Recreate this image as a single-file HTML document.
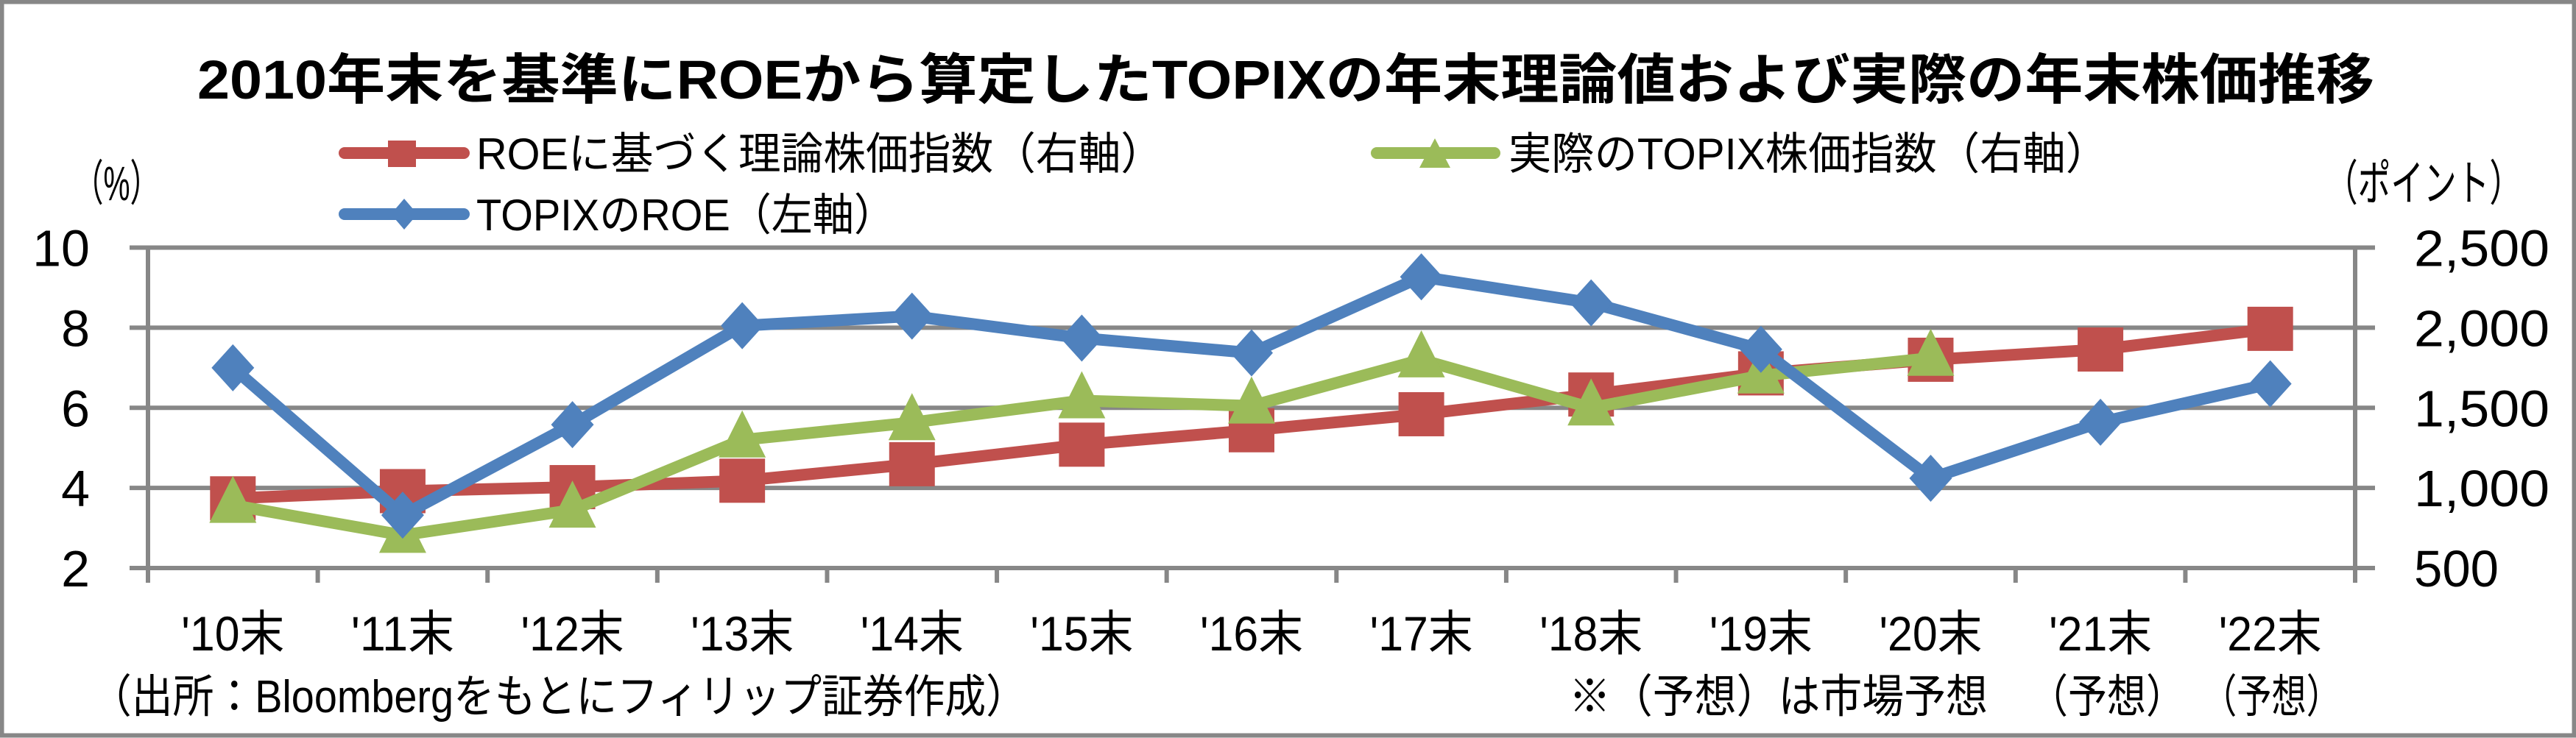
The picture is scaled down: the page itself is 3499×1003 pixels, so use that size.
<!DOCTYPE html>
<html><head><meta charset="utf-8">
<style>
html,body{margin:0;padding:0;background:#fff;}
svg{display:block;}
text{font-family:"Liberation Sans","Noto Sans CJK JP",sans-serif;fill:#000;}
</style></head>
<body>
<svg id="chart" width="3499" height="1003" viewBox="0 0 3499 1003" xmlns="http://www.w3.org/2000/svg">
<rect x="2.5" y="2.5" width="3494" height="997" fill="#fff" stroke="#878787" stroke-width="6"/>
<text x="268" y="134" font-size="74" font-weight="bold" textLength="2957" lengthAdjust="spacingAndGlyphs">2010年末を基準にROEから算定したTOPIXの年末理論値および実際の年末株価推移</text>
<g id="legend">
  <g>
    <line x1="468" y1="208" x2="630" y2="208" stroke="#C0504D" stroke-width="16" stroke-linecap="round"/>
    <rect x="527" y="191" width="38" height="36" fill="#C0504D"/>
    <text x="647" y="230" font-size="60" textLength="933" lengthAdjust="spacingAndGlyphs">ROEに基づく理論株価指数（右軸）</text>
  </g>
  <g>
    <line x1="1870" y1="208" x2="2030" y2="208" stroke="#9BBB59" stroke-width="16" stroke-linecap="round"/>
    <polygon points="1949,188 1970,228 1928,228" fill="#9BBB59"/>
    <text x="2049" y="230" font-size="60" textLength="815" lengthAdjust="spacingAndGlyphs">実際のTOPIX株価指数（右軸）</text>
  </g>
  <g>
    <line x1="468" y1="291" x2="630" y2="291" stroke="#4F81BD" stroke-width="16" stroke-linecap="round"/>
    <polygon points="549,270 567,291 549,312 531,291" fill="#4F81BD"/>
    <text x="647" y="313" font-size="60" textLength="569" lengthAdjust="spacingAndGlyphs">TOPIXのROE（左軸）</text>
  </g>
</g>
<text x="100" y="272" font-size="66" textLength="117" lengthAdjust="spacingAndGlyphs">（%）</text>
<text x="3158" y="272" font-size="66" textLength="268" lengthAdjust="spacingAndGlyphs">（ポイント）</text>
<g id="grid"></g>
<g id="axes"></g>
<g id="series"></g>
<text x="123" y="968" font-size="62" textLength="1272" lengthAdjust="spacingAndGlyphs">（出所：Bloombergをもとにフィリップ証券作成）</text>
<text x="2131" y="968" font-size="62" textLength="569" lengthAdjust="spacingAndGlyphs">※（予想）は市場予想</text>
<text x="2756" y="968" font-size="62" textLength="212" lengthAdjust="spacingAndGlyphs">（予想）</text>
<text x="2991" y="968" font-size="62" textLength="189" lengthAdjust="spacingAndGlyphs">（予想）</text>
</svg>
<script>
const categories = ["'10末","'11末","'12末","'13末","'14末","'15末","'16末","'17末","'18末","'19末","'20末","'21末","'22末"];
const roe = [7.0, 3.32, 5.58, 8.05, 8.29, 7.74, 7.37, 9.27, 8.62, 7.46, 4.24, 5.64, 6.6];
const theoretical = [935, 980, 1005, 1045, 1148, 1270, 1360, 1460, 1583, 1715, 1800, 1864, 1993];
const actual = [892, 705, 862, 1300, 1408, 1545, 1512, 1800, 1500, 1700, 1810, null, null];
const leftTicks = [2, 4, 6, 8, 10];
const rightTicks = [500, 1000, 1500, 2000, 2500];
const rightTickLabels = ["500", "1,000", "1,500", "2,000", "2,500"];

const NS = "http://www.w3.org/2000/svg";
const PL = 201, PR = 3199, PT = 336.5, PB = 772;
const band = (PR - PL) / categories.length;
const xPos = i => PL + band * (i + 0.5);
const yLeft = v => PB - (v - 2) / 8 * (PB - PT);
const yRight = v => PB - (v - 500) / 2000 * (PB - PT);
function mk(tag, attrs, parent) {
  const e = document.createElementNS(NS, tag);
  for (const k in attrs) e.setAttribute(k, attrs[k]);
  parent.appendChild(e);
  return e;
}
const grid = document.getElementById('grid');
const axes = document.getElementById('axes');
const series = document.getElementById('series');

leftTicks.forEach((t, i) => {
  const y = yLeft(t);
  const l = mk('line', {x1: 176, x2: 3226, y1: y, y2: y, stroke: '#878787', 'stroke-width': 6}, grid);
  
  
  const tx = mk('text', {x: 122, y: y + 25, 'font-size': 70, 'text-anchor': 'end'}, axes);
  
  
  tx.textContent = String(t);
});
rightTicks.forEach((t, i) => {
  const y = yRight(t);
  const tx = mk('text', {x: 3279, y: y + 25, 'font-size': 70}, axes);
  
  
  tx.setAttribute('textLength', rightTickLabels[i].length > 3 ? 184 : 115);
  tx.setAttribute('lengthAdjust', 'spacingAndGlyphs');
  tx.textContent = rightTickLabels[i];
});
const la = mk('line', {x1: PL, x2: PL, y1: PT, y2: PB + 20, stroke: '#878787', 'stroke-width': 6}, axes);


const ra = mk('line', {x1: PR, x2: PR, y1: PT, y2: PB + 20, stroke: '#878787', 'stroke-width': 6}, axes);


for (let i = 1; i < categories.length; i++) {
  const x = PL + band * i;
  const tk = mk('line', {x1: x, x2: x, y1: PB, y2: PB + 20, stroke: '#878787', 'stroke-width': 6}, axes);
  
  
}
categories.forEach((c, i) => {
  const tx = mk('text', {x: xPos(i), y: 884, 'font-size': 66, 'text-anchor': 'middle'}, axes);
  
  
  tx.setAttribute('textLength', 140);
  tx.setAttribute('lengthAdjust', 'spacingAndGlyphs');
  tx.textContent = c;
});

function drawLine(vals, yf, color, name) {
  const pts = [];
  vals.forEach((v, i) => { if (v !== null) pts.push(xPos(i) + ',' + yf(v)); });
  const pl = mk('polyline', {points: pts.join(' '), fill: 'none', stroke: color, 'stroke-width': 16, 'stroke-linejoin': 'round'}, series);
  
  
}
drawLine(theoretical, yRight, '#C0504D', 'theoretical');
theoretical.forEach((v, i) => {
  const x = xPos(i), y = yRight(v);
  const r = mk('rect', {x: x - 31, y: y - 30, width: 62, height: 60, fill: '#C0504D'}, series);
  
  
});
drawLine(actual, yRight, '#9BBB59', 'actual');
actual.forEach((v, i) => {
  if (v === null) return;
  const x = xPos(i), y = yRight(v);
  const p = mk('polygon', {points: `${x},${y - 40} ${x + 32},${y + 24} ${x - 32},${y + 24}`, fill: '#9BBB59'}, series);
  
  
});
drawLine(roe, yLeft, '#4F81BD', 'roe');
roe.forEach((v, i) => {
  const x = xPos(i), y = yLeft(v);
  const p = mk('polygon', {points: `${x},${y - 32} ${x + 29},${y} ${x},${y + 32} ${x - 29},${y}`, fill: '#4F81BD'}, series);
  
  
});
</script>
</body></html>
